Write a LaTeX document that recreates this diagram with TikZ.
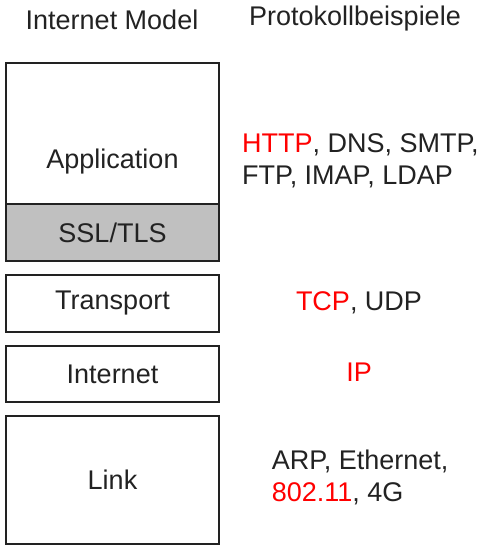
\documentclass[tikz,border=0pt]{standalone}
\usepackage{fontspec}
\setmainfont{Liberation Sans}
\usetikzlibrary{positioning}
\definecolor{txt}{HTML}{222222}
\definecolor{sslgray}{HTML}{C0C0C0}
\newcommand{\hl}[1]{\textcolor{red}{#1}}
\begin{document}
\begin{tikzpicture}[
    x=1pt, y=-1pt,
    font=\fontsize{27}{32}\selectfont, text=txt,
    layer/.style={draw=txt, line width=2pt, minimum width=213pt, inner sep=0pt},
    proto/.style={inner sep=0pt, align=left, anchor=west}
    ]
	\useasboundingbox (0,0) rectangle (492,548);
	\node [anchor=base] (hmodel) at (112,30) {Internet Model};
	\node [anchor=base] (hproto) at (355,26) {Protokollbeispiele};
	% layers
	\node [layer, minimum height=198pt] (app) at (112.5,162) {Application};
	\node [layer, fill=sslgray, minimum height=57pt, anchor=south] (ssl) at (app.south) {SSL/TLS};
	\node [layer, minimum height=57pt, below=12pt of ssl] (trans) {Transport};
	\node [layer, minimum height=56pt, below=12pt of trans] (inet) {Internet};
	\node [layer, minimum height=128pt, below=12pt of inet] (link) {Link};
	% examples
	\node [proto] (papp) at (242,160.5) {\hl{HTTP}, DNS, SMTP,\\FTP, IMAP, LDAP};
	\node [inner sep=0pt, anchor=base] (ptrans) at (359,310) {\hl{TCP}, UDP};
	\node [inner sep=0pt, anchor=base] (pinet) at (359,381.7) {\hl{IP}};
	\node [proto] (plink) at (271.7,477.5) {ARP, Ethernet,\\\hl{802.11}, 4G};
\end{tikzpicture}
\end{document}
